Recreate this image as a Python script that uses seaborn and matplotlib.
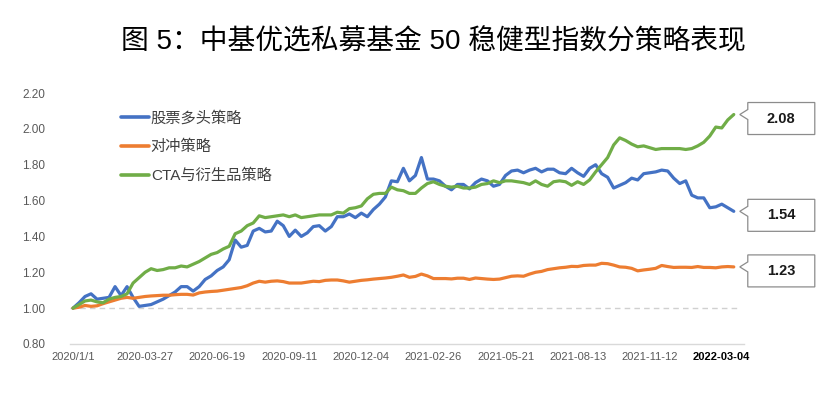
import matplotlib
matplotlib.use("Agg")
import matplotlib.pyplot as plt
import matplotlib.transforms as mtransforms
from matplotlib.patches import Polygon
from matplotlib.lines import Line2D
import seaborn as sns
import pandas as pd
import numpy as np

# ---------------- data ----------------
title = "图 5：中基优选私募基金 50 稳健型指数分策略表现"
series_names = ["股票多头策略", "对冲策略", "CTA与衍生品策略"]
series_colors = ["#4472C4", "#ED7D31", "#70AD47"]

tick_labels = ["2020/1/1", "2020-03-27", "2020-06-19", "2020-09-11", "2020-12-04",
               "2021-02-26", "2021-05-21", "2021-08-13", "2021-11-12", "2022-03-04"]
tick_step = 12

equity_long = [
    1.00, 1.03, 1.065, 1.08, 1.05, 1.055, 1.06, 1.12, 1.07, 1.12,
    1.06, 1.01, 1.015, 1.02, 1.035, 1.05, 1.07, 1.09, 1.12, 1.12,
    1.095, 1.12, 1.16, 1.18, 1.21, 1.23, 1.27, 1.38, 1.34, 1.35,
    1.43, 1.445, 1.425, 1.43, 1.485, 1.46, 1.40, 1.435, 1.40, 1.42,
    1.455, 1.46, 1.43, 1.455, 1.51, 1.51, 1.525, 1.505, 1.53, 1.51,
    1.55, 1.58, 1.62, 1.71, 1.705, 1.78, 1.71, 1.74, 1.84, 1.72,
    1.72, 1.71, 1.68, 1.66, 1.69, 1.69, 1.665, 1.70, 1.72, 1.71,
    1.68, 1.69, 1.74, 1.765, 1.77, 1.755, 1.77, 1.78, 1.76, 1.775,
    1.775, 1.755, 1.75, 1.78, 1.755, 1.735, 1.78, 1.80, 1.75, 1.73,
    1.67, 1.685, 1.70, 1.725, 1.715, 1.75, 1.755, 1.76, 1.77, 1.765,
    1.725, 1.695, 1.71, 1.63, 1.615, 1.615, 1.56, 1.565, 1.58, 1.56, 1.54,
]
hedge = [
    1.00, 1.005, 1.015, 1.01, 1.013, 1.025, 1.035, 1.045, 1.055, 1.06,
    1.055, 1.06, 1.065, 1.068, 1.07, 1.072, 1.072, 1.075, 1.077, 1.077,
    1.073, 1.085, 1.09, 1.093, 1.095, 1.10, 1.105, 1.11, 1.115, 1.125,
    1.14, 1.15, 1.145, 1.15, 1.152, 1.148, 1.14, 1.14, 1.14, 1.145,
    1.15, 1.148, 1.155, 1.157, 1.157, 1.152, 1.145, 1.15, 1.155, 1.158,
    1.162, 1.165, 1.168, 1.172, 1.178, 1.185, 1.172, 1.177, 1.19, 1.18,
    1.165, 1.165, 1.165, 1.163, 1.167, 1.167, 1.16, 1.168, 1.165, 1.162,
    1.16, 1.162, 1.17, 1.178, 1.18, 1.178, 1.19, 1.20, 1.205, 1.215,
    1.22, 1.225, 1.228, 1.233, 1.232, 1.238, 1.24, 1.24, 1.25, 1.248,
    1.24, 1.23, 1.228, 1.222, 1.208, 1.213, 1.217, 1.222, 1.238, 1.232,
    1.227, 1.228, 1.228, 1.227, 1.232, 1.227, 1.227, 1.225, 1.23, 1.232, 1.23,
]
cta = [
    1.00, 1.02, 1.04, 1.045, 1.035, 1.03, 1.05, 1.06, 1.065, 1.08,
    1.14, 1.17, 1.20, 1.22, 1.21, 1.215, 1.225, 1.225, 1.235, 1.23,
    1.245, 1.26, 1.28, 1.30, 1.31, 1.33, 1.345, 1.415, 1.43, 1.46,
    1.475, 1.515, 1.505, 1.51, 1.515, 1.52, 1.51, 1.52, 1.505, 1.51,
    1.515, 1.52, 1.52, 1.52, 1.535, 1.53, 1.555, 1.56, 1.57, 1.61,
    1.635, 1.64, 1.64, 1.675, 1.66, 1.655, 1.64, 1.64, 1.67, 1.695,
    1.705, 1.69, 1.68, 1.675, 1.68, 1.67, 1.67, 1.675, 1.69, 1.695,
    1.71, 1.70, 1.71, 1.71, 1.705, 1.70, 1.69, 1.71, 1.69, 1.68,
    1.705, 1.71, 1.705, 1.685, 1.705, 1.69, 1.715, 1.76, 1.80, 1.84,
    1.91, 1.95, 1.935, 1.915, 1.90, 1.905, 1.895, 1.885, 1.89, 1.89,
    1.89, 1.89, 1.885, 1.89, 1.905, 1.925, 1.96, 2.01, 2.005, 2.05, 2.08,
]
all_series = [equity_long, hedge, cta]

# ---------------- figure ----------------
sns.set_theme(style="white")
plt.rcParams["font.family"] = ["Liberation Sans", "Noto Sans CJK SC", "DejaVu Sans"]

W, H = 838, 399
fig = plt.figure(figsize=(W / 100, H / 100), dpi=100)
ax_l, ax_r, ax_t, ax_b = 70, 744, 93, 344
ax = fig.add_axes([ax_l / W, 1 - ax_b / H, (ax_r - ax_l) / W, (ax_b - ax_t) / H])

frames = []
for name, vals in zip(series_names, all_series):
    frames.append(pd.DataFrame({"idx": np.arange(len(vals)), "value": vals, "series": name}))
df = pd.concat(frames, ignore_index=True)

sns.lineplot(data=df, x="idx", y="value", hue="series", hue_order=series_names,
             palette=series_colors, linewidth=2.3, legend=False, ax=ax)

n = len(equity_long)
ax.set_xlim(-0.5, n + 0.7)
ax.set_ylim(0.8, 2.2)

yt = np.round(np.arange(0.8, 2.21, 0.2), 2)
ax.set_yticks(yt)
ax.set_yticklabels([f"{v:.2f}" for v in yt])
xt = np.arange(len(tick_labels)) * tick_step
ax.set_xticks(xt)
ax.set_xticklabels(tick_labels)
ax.set_xlabel("")
ax.set_ylabel("")
ax.tick_params(axis="y", length=0, pad=18, labelsize=8.5, labelcolor="#595959")
ax.tick_params(axis="x", length=0, pad=6, labelsize=8, labelcolor="#595959")
last = ax.get_xticklabels()[-1]
last.set_fontweight("bold")
last.set_color("black")

for s in ["left", "right", "top"]:
    ax.spines[s].set_visible(False)
ax.spines["bottom"].set_color("#d9d9d9")
ax.spines["bottom"].set_linewidth(1.0)
ax.grid(False)

# dashed baseline at 1.00 spanning the data range
x0, x1 = ax.get_xlim()
ax.axhline(1.0, xmin=0, xmax=(n - 1 + 0.5 - x0) / (x1 - x0), color="#d0d0d0",
           linestyle=(0, (4, 3)), linewidth=1.0, zorder=0)

# legend
handles = [Line2D([0], [0], color=c, lw=2.6) for c in series_colors]
ax.legend(handles, series_names, loc="upper left",
          bbox_to_anchor=((121 - ax_l) / (ax_r - ax_l), (ax_b - 111) / (ax_b - ax_t)),
          frameon=False, fontsize=11, handlelength=1.8, handletextpad=0.15,
          labelspacing=0.93, borderpad=0, borderaxespad=0, labelcolor="#404040")

# callouts at the last point of each series
for vals in all_series:
    xl, yl = n - 1, vals[-1]
    trans = mtransforms.Affine2D() + mtransforms.ScaledTranslation(xl, yl, ax.transData)
    poly = [(14, 12), (81, 12), (81, -20), (14, -20), (14, -5), (6, 0), (14, 5)]
    ax.add_patch(Polygon(poly, closed=True, transform=trans, facecolor="white",
                         edgecolor="#8c8c8c", linewidth=0.9, clip_on=False, zorder=5))
    ax.text(47.5, -4, f"{yl:.2f}", transform=trans, ha="center", va="center",
            fontsize=10.5, fontweight="bold", color="#1a1a1a", zorder=6, clip_on=False)

fig.text(433 / W, 1 - 42 / H, title, ha="center", va="center", fontsize=20, color="black")

fig.savefig("out.png", dpi=100)
